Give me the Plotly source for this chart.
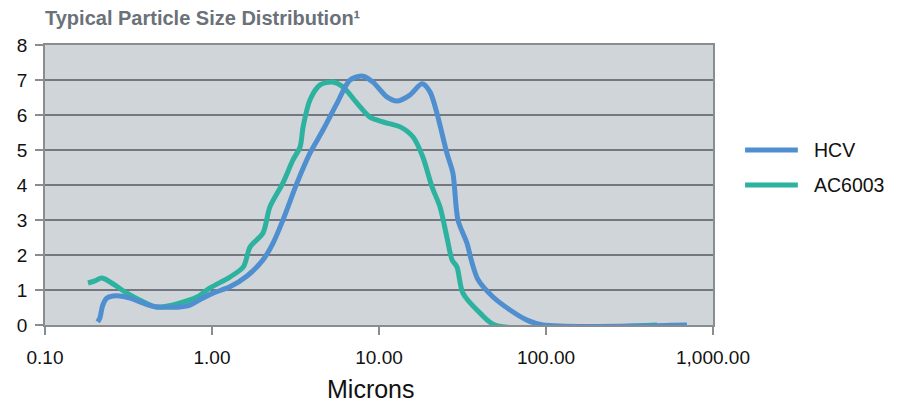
import plotly.graph_objects as go

# HCV series (microns, value)
hcv_x = [0.207, 0.213, 0.222, 0.235, 0.255, 0.281, 0.323, 0.371, 0.437, 0.509, 0.625, 0.738,
         0.883, 1.014, 1.28, 1.62, 2.02, 2.32, 2.66, 3.23, 3.86, 4.62, 5.61, 6.71, 8.02,
         9.2, 11.2, 12.8, 15.3, 18.1, 20.2, 22.2, 25.5, 27.7, 29.7, 33.6, 36.1, 39.2,
         48.2, 60.9, 77, 96, 698]
hcv_y = [0.09, 0.2, 0.57, 0.77, 0.83, 0.83, 0.77, 0.66, 0.54, 0.51, 0.51, 0.57,
         0.77, 0.91, 1.09, 1.4, 1.86, 2.34, 3.0, 4.06, 4.91, 5.57, 6.34, 7.0, 7.11,
         6.94, 6.51, 6.4, 6.57, 6.89, 6.66, 6.06, 4.91, 4.34, 3.0, 2.34, 1.77, 1.29,
         0.8, 0.43, 0.14, 0.0, 0.0]

# AC6003 series
ac_x = [0.181, 0.199, 0.219, 0.245, 0.310, 0.371, 0.469, 0.643, 0.813, 0.973, 1.28, 1.54,
        1.69, 2.02, 2.22, 2.66, 3.05, 3.37, 3.51, 3.86, 4.44, 5.24, 6.09, 7.38, 8.83,
        10.6, 13.4, 16.0, 18.3, 20.8, 23.2, 25.5, 27.4, 29.3, 31.8, 40.3, 49.5, 462]
ac_y = [1.2, 1.26, 1.34, 1.23, 0.91, 0.71, 0.51, 0.63, 0.8, 1.06, 1.37, 1.66,
        2.23, 2.63, 3.37, 4.06, 4.71, 5.09, 5.66, 6.43, 6.86, 6.94, 6.8, 6.34, 5.94,
        5.8, 5.66, 5.37, 4.8, 3.94, 3.37, 2.51, 1.86, 1.66, 0.91, 0.34, 0.0, 0.0]

x_tickvals = [0.1, 1, 10, 100, 1000]
x_ticktext = ["0.10", "1.00", "10.00", "100.00", "1,000.00"]
y_tickvals = [0, 1, 2, 3, 4, 5, 6, 7, 8]

series_names = ["HCV", "AC6003"]
colors = ["#4f8fd0", "#2db29f"]

fig = go.Figure()
fig.add_trace(go.Scatter(x=ac_x, y=ac_y, mode="lines", name=series_names[1],
                         line=dict(color=colors[1], width=5, shape="spline", smoothing=0.8),
                         showlegend=False))
fig.add_trace(go.Scatter(x=hcv_x, y=hcv_y, mode="lines", name=series_names[0],
                         line=dict(color=colors[0], width=5, shape="spline", smoothing=0.8),
                         showlegend=False))

# custom legend
leg_y = [0.625, 0.5]
for i, (nm, c) in enumerate(zip(series_names, colors)):
    fig.add_shape(type="line", xref="paper", yref="paper",
                  x0=1.048, x1=1.127, y0=leg_y[i], y1=leg_y[i],
                  line=dict(color=c, width=5))
    fig.add_annotation(text=nm, xref="paper", yref="paper", x=1.148, y=leg_y[i],
                       xanchor="left", yanchor="middle", showarrow=False,
                       font=dict(size=19.5, color="#111111"))

# x-axis title
fig.add_annotation(text="Microns", xref="paper", yref="paper", x=0.488, y=-0.228,
                   xanchor="center", yanchor="middle", showarrow=False,
                   font=dict(size=25, color="#111111"))

fig.update_layout(
    width=885, height=394,
    margin=dict(l=37, r=180, t=37, b=77),
    paper_bgcolor="white",
    plot_bgcolor="#d0d5da",
    font=dict(family="Liberation Sans, Arial, sans-serif", color="#111111"),
    title=dict(text="<b>Typical Particle Size Distribution¹</b>", x=0, xref="paper",
               xanchor="left", y=1 - 10 / 394, yref="container", yanchor="middle",
               font=dict(size=20, color="#6b7178")),
)
fig.update_xaxes(type="log", range=[-1, 3], tickvals=x_tickvals, ticktext=x_ticktext,
                 showgrid=False, zeroline=False, showline=True, linecolor="#8a8d90",
                 linewidth=1.5, mirror=True, ticks="outside", ticklen=8,
                 tickcolor="#8a8d90", tickwidth=1.5, ticklabelstandoff=6,
                 automargin=False,
                 tickfont=dict(size=19, color="#111111"))
fig.update_yaxes(range=[0, 8], tickvals=y_tickvals, showgrid=True, gridcolor="#737880",
                 gridwidth=1.5, zeroline=False, showline=True, linecolor="#8a8d90",
                 linewidth=1.5, mirror=True, ticks="outside", ticklen=8,
                 tickcolor="#8a8d90", tickwidth=1.5, ticklabelstandoff=4,
                 automargin=False,
                 tickfont=dict(size=19, color="#111111"))

fig.write_html("out.html")
